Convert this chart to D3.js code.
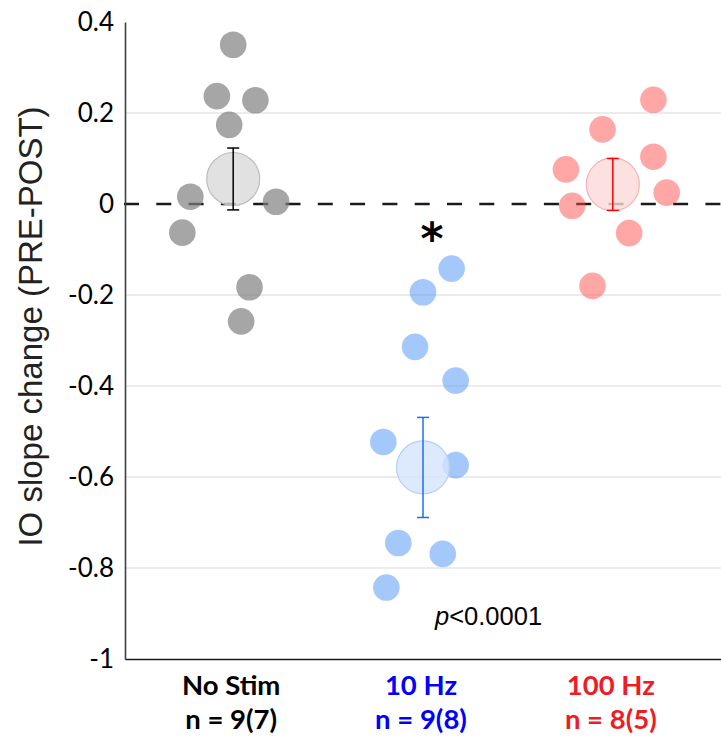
<!DOCTYPE html>
<html>
<head>
<meta charset="utf-8">
<script src="https://cdn.jsdelivr.net/npm/d3@7"></script>
<style>
  body { margin: 0; background: #fff; }
  svg { display: block; }
</style>
</head>
<body>
<div id="chart"></div>
<script>
// IO slope change per stimulation group — dot plot with mean ± SEM

const groups = ["No Stim", "10 Hz", "100 Hz"];
const groupN = ["n = 9(7)", "n = 9(8)", "n = 8(5)"];

const noStimVals = [0.35, 0.237, 0.228, 0.174, 0.016, 0.005, -0.063, -0.183, -0.258];
const hz10Vals   = [-0.142, -0.194, -0.314, -0.388, -0.523, -0.574, -0.745, -0.769, -0.843];
const hz100Vals  = [0.229, 0.164, 0.076, 0.104, 0.025, -0.004, -0.064, -0.18];

// horizontal jitter, as a fraction of the group spacing
const noStimJitter = [0, -0.086, 0.117, -0.021, -0.226, 0.226, -0.268, 0.086, 0.042];
const hz10Jitter   = [0.151, 0, -0.042, 0.172, -0.209, 0.172, -0.13, 0.104, -0.193];
const hz100Jitter  = [0.214, -0.054, -0.247, 0.214, 0.284, -0.214, 0.086, -0.107];

const means = [0.055, -0.579, 0.043];
const sems  = [0.068, 0.110, 0.057];

const yTicks = [0.4, 0.2, 0, -0.2, -0.4, -0.6, -0.8, -1];
const gridTicks = [0.2, -0.2, -0.4, -0.6, -0.8];

const W = 721, H = 741;
const L = 125, R = 721, T = 22, B = 659;

const ptFill   = ["#808080", "#5b9bf8", "#ff4d4d"];
const ptAlpha  = [0.7, 0.55, 0.5];
const meanFill = ["#d9d9d9", "#d5e3fb", "#fcd9d9"];
const meanStroke = ["#bdbdbd", "#b7cff5", "#f5b3b3"];
const barColor = ["#000000", "#1a6ff0", "#ff0000"];
const labelColor = ["#000000", "#0000ff", "#ee1c24"];

const x = d3.scalePoint().domain(groups).range([L, R]).padding(0.57);
const y = d3.scaleLinear().domain([-1, 0.4]).range([B, T]);
const step = x.step();

const svg = d3.select("#chart").append("svg").attr("width", W).attr("height", H);

// gridlines
svg.append("g").selectAll("line").data(gridTicks).enter().append("line")
  .attr("x1", L).attr("x2", R)
  .attr("y1", d => y(d)).attr("y2", d => y(d))
  .attr("stroke", "#d9d9d9").attr("stroke-width", 1.2);

// zero line
svg.append("line")
  .attr("x1", L - 1).attr("x2", R).attr("y1", y(0)).attr("y2", y(0))
  .attr("stroke", "#1a1a1a").attr("stroke-width", 2.6)
  .attr("stroke-dasharray", "15,17.3");

// y axis
const yAxis = d3.axisLeft(y).tickValues(yTicks).tickSize(0).tickPadding(11)
  .tickFormat(d => String(+d.toFixed(1)));
const gy = svg.append("g").attr("transform", `translate(${L},0)`).call(yAxis);
gy.select(".domain").attr("stroke", "#404040").attr("stroke-width", 1.6);
gy.selectAll("text").attr("font-family", "Lato, sans-serif").attr("font-size", 26).attr("fill", "#000");

// x axis
const xAxis = d3.axisBottom(x).tickSize(0).tickSizeOuter(0).tickFormat("");
const gx = svg.append("g").attr("transform", `translate(0,${B})`).call(xAxis);
gx.select(".domain").attr("stroke", "#1a1a1a").attr("stroke-width", 1.6);

const labels = svg.append("g").selectAll("text").data(groups).enter().append("text")
  .attr("x", d => x(d)).attr("text-anchor", "middle")
  .attr("font-family", "Lato, sans-serif").attr("font-weight", 700).attr("font-size", 27.5)
  .attr("fill", (d, i) => labelColor[i]);
labels.append("tspan").attr("x", d => x(d) - 2).attr("y", 695).text(d => d);
labels.append("tspan").attr("x", d => x(d) - 2).attr("y", 729).text((d, i) => groupN[i]);

// y title
svg.append("text")
  .attr("transform", `translate(42,${(100 + 553) / 2}) rotate(-90)`)
  .attr("text-anchor", "middle")
  .attr("font-family", "'Liberation Sans', Arial, sans-serif").attr("font-size", 33)
  .attr("fill", "#222")
  .text("IO slope change (PRE-POST)");

// points
const series = [
  { vals: noStimVals, jit: noStimJitter },
  { vals: hz10Vals, jit: hz10Jitter },
  { vals: hz100Vals, jit: hz100Jitter }
];
series.forEach((s, gi) => {
  const pts = s.vals.map((v, i) => ({ v, j: s.jit[i] }));
  svg.append("g").selectAll("circle").data(pts).enter().append("circle")
    .attr("cx", d => x(groups[gi]) + d.j * step)
    .attr("cy", d => y(d.v))
    .attr("r", 13.3)
    .attr("fill", ptFill[gi]).attr("fill-opacity", ptAlpha[gi]);
});

// mean circles and SEM bars
const mg = svg.append("g");
groups.forEach((g, i) => {
  const cx = x(g);
  mg.append("circle").attr("cx", cx).attr("cy", y(means[i])).attr("r", 26.5)
    .attr("fill", meanFill[i]).attr("fill-opacity", 0.8)
    .attr("stroke", meanStroke[i]).attr("stroke-width", 1.2);
  const y1 = y(means[i] + sems[i]), y2 = y(means[i] - sems[i]);
  mg.append("line").attr("x1", cx).attr("x2", cx).attr("y1", y1).attr("y2", y2)
    .attr("stroke", barColor[i]).attr("stroke-width", 1.5);
  [y1, y2].forEach(yy => {
    mg.append("line").attr("x1", cx - 6).attr("x2", cx + 6).attr("y1", yy).attr("y2", yy)
      .attr("stroke", barColor[i]).attr("stroke-width", 1.5);
  });
});

// significance marks
svg.append("text").attr("x", x("10 Hz") + 9).attr("y", 254).attr("text-anchor", "middle")
  .attr("font-family", "'DejaVu Sans', sans-serif").attr("font-weight", 700)
  .attr("font-size", 44).attr("fill", "#000").text("*");

const pt = svg.append("text").attr("x", 435).attr("y", 625)
  .attr("font-family", "'Liberation Sans', Arial, sans-serif").attr("font-size", 25.5).attr("fill", "#000");
pt.append("tspan").attr("font-style", "italic").text("p");
pt.append("tspan").text("<0.0001");
</script>
</body>
</html>
